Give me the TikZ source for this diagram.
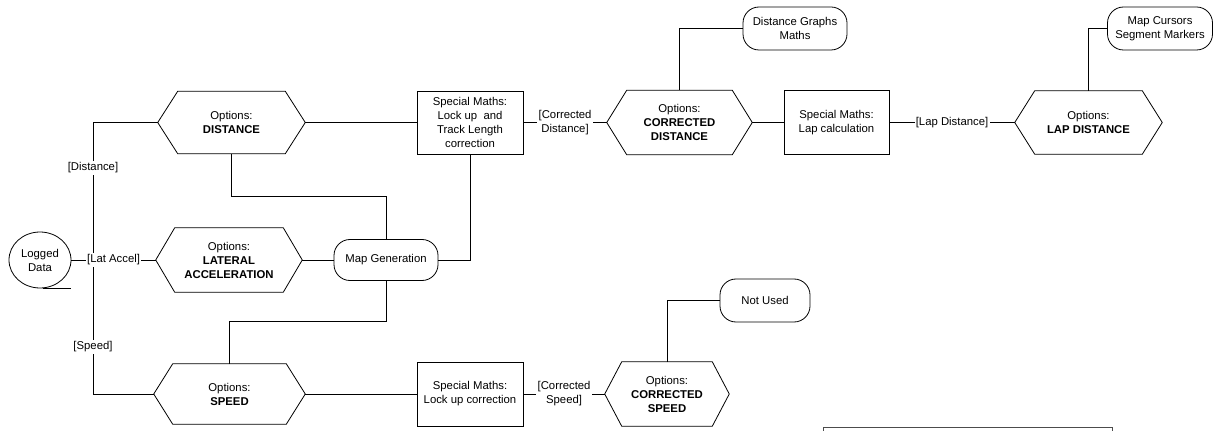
\documentclass[tikz,border=0pt]{standalone}
\usepackage{fontspec}
\setmainfont{Liberation Sans}
\usetikzlibrary{calc,shapes.geometric}
\newcommand\pxu{0.75pt}
\newcommand\hexoutline[2]{\draw[conn] (#1.west) -- ($(#1.north west)+(#2,0)$) -- ($(#1.north east)+(-#2,0)$) -- (#1.east) -- ($(#1.south east)+(-#2,0)$) -- ($(#1.south west)+(#2,0)$) -- cycle;}
\begin{document}
\begin{tikzpicture}[x=0.75pt,y=-0.75pt,
  font=\fontsize{8.5}{10.5}\selectfont,
  conn/.style={line width=0.6pt,draw=black},
  hexnode/.style={inner sep=0pt,align=center},
  boxnode/.style={draw,line width=0.6pt,inner sep=0pt,align=center},
  roundnode/.style={draw,line width=0.6pt,inner sep=0pt,align=center,rounded corners=12pt},
  lbl/.style={fill=white,inner sep=1pt,align=center}]
\useasboundingbox (0,0) rectangle (1215,431);

% Logged data
\node[ellipse,draw,line width=0.6pt,minimum width=62*\pxu,minimum height=56*\pxu,inner sep=0pt,align=center] (logged) at (40,260) {Logged\\Data};
\draw[conn] ($(logged.south)+(3,0)$) -- ++(28,0);

% Hexagons
\node[hexnode,minimum width=147*\pxu,minimum height=62*\pxu] (dist) at (231.5,122.5) {Options:\\\textbf{DISTANCE}};
\hexoutline{dist}{20}
\node[hexnode,minimum width=146*\pxu,minimum height=64*\pxu] (lat) at (229,260) {Options:\\\textbf{LATERAL}\\\textbf{ACCELERATION}};
\hexoutline{lat}{19}
\node[hexnode,minimum width=151*\pxu,minimum height=60*\pxu] (speed) at (229.5,394) {Options:\\\textbf{SPEED}};
\hexoutline{speed}{19}
\node[hexnode,minimum width=145*\pxu,minimum height=64*\pxu] (cdist) at (679.5,122.5) {Options:\\\textbf{CORRECTED}\\\textbf{DISTANCE}};
\hexoutline{cdist}{20}
\node[hexnode,minimum width=147*\pxu,minimum height=63*\pxu] (lapd) at (1088.5,122.5) {Options:\\\textbf{LAP DISTANCE}};
\hexoutline{lapd}{20}
\node[hexnode,minimum width=124*\pxu,minimum height=64*\pxu] (cspeed) at (667,394) {Options:\\\textbf{CORRECTED}\\\textbf{SPEED}};
\hexoutline{cspeed}{17}

% Boxes
\node[boxnode,minimum width=106*\pxu,minimum height=63*\pxu] (sm1) at (470,122.5) {Special Maths:\\Lock up\ \ and\\Track Length\\correction};
\node[boxnode,minimum width=105*\pxu,minimum height=64*\pxu] (sm2) at (836.5,122.5) {Special Maths:\\Lap calculation};
\node[boxnode,minimum width=106*\pxu,minimum height=64*\pxu] (sm3) at (470,394) {Special Maths:\\Lock up correction};

% Rounded terminals
\node[roundnode,minimum width=104*\pxu,minimum height=41*\pxu] (mapgen) at (386,260) {Map Generation};
\node[roundnode,minimum width=104*\pxu,minimum height=43*\pxu] (dgraph) at (795,28.5) {Distance Graphs\\Maths};
\node[roundnode,minimum width=105*\pxu,minimum height=43*\pxu] (mcurs) at (1160,28.5) {Map Cursors\\Segment Markers};
\node[roundnode,minimum width=90*\pxu,minimum height=43*\pxu] (notused) at (765,300.5) {Not Used};

% Connectors
\coordinate (bus) at (93,260);
\draw[conn] (dist.west) -- (dist.west -| bus) -- (speed.west -| bus) -- (speed.west);
\node[lbl] (ldist) at (93,168) {[Distance]};
\node[lbl] (lspeed) at (93,347) {[Speed]};
\draw[conn] (logged.east) -- node[lbl] (llat) {[Lat Accel]} (lat.west);

\draw[conn] (dist.south) -- ++(0,43) -| (mapgen.north);
\draw[conn] (lat.east) -- (mapgen.west);
\draw[conn] (mapgen.east) -| (sm1.south);
\draw[conn] (dist.east) -- (sm1.west);
\draw[conn] (sm1.east) -- node[lbl] (lcd) {[Corrected\\Distance]} (cdist.west);
\draw[conn] (cdist.north) |- (dgraph.west);
\draw[conn] (cdist.east) -- (sm2.west);
\draw[conn] (sm2.east) -- node[lbl] (llap) {[Lap Distance]} (lapd.west);
\draw[conn] (lapd.north) |- (mcurs.west);
\draw[conn] (mapgen.south) -- ++(0,41) -| (speed.north);
\draw[conn] (speed.east) -- (sm3.west);
\draw[conn] (sm3.east) -- node[lbl] (lcs) {[Corrected\\Speed]} (cspeed.west);
\draw[conn] (cspeed.north) |- (notused.west);

% Partial box at bottom right
\draw[line width=0.6pt,draw=black!70] (823,432) -- (823,427) -- (1112,427) -- (1112,432);
\end{tikzpicture}
\end{document}
